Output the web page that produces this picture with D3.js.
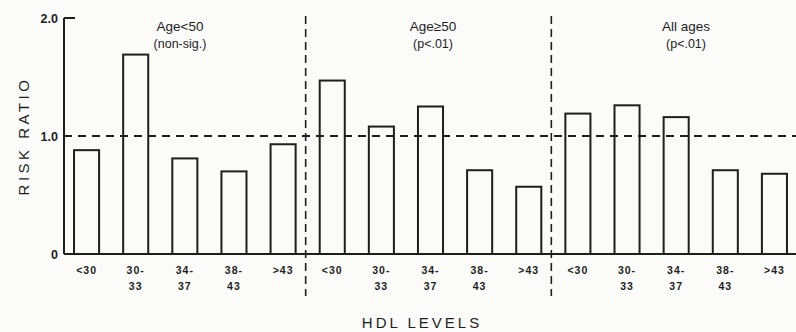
<!DOCTYPE html>
<html>
<head>
<meta charset="utf-8">
<script src="https://cdn.jsdelivr.net/npm/d3@7"></script>
<style>
  body { margin: 0; background: #fbfbfa; }
  text { font-family: "Liberation Sans", Arial, sans-serif; fill: #1e1e1e; }
</style>
</head>
<body>
<script>
// data
const groups = ["Age<50", "Age≥50", "All ages"]
const groupNotes = ["(non-sig.)", "(p<.01)", "(p<.01)"]
const hdlTop = ["<30", "30-", "34-", "38-", ">43"]
const hdlBottom = ["", "33", "37", "43", ""]
const youngRR = [0.88, 1.69, 0.81, 0.70, 0.93]
const oldRR = [1.47, 1.08, 1.25, 0.71, 0.57]
const allRR = [1.19, 1.26, 1.16, 0.71, 0.68]
const yTicks = [0, 1.0, 2.0]

const W = 796, H = 332
const Ink = "#1e1e1e"
const AxisX = 64
const BaseY = 254
const TopY = 18

const svg = d3.select("body").append("svg")
    .attr("width", W)
    .attr("height", H)

const series = [youngRR, oldRR, allRR]
const rows = []
series.forEach((vals, gi) => {
    vals.forEach((v, ci) => {
        rows.push({key: gi + "_" + ci, g: gi, c: ci, v: v})
    })
})

const x = d3.scaleBand()
    .domain(rows.map(d => d.key))
    .range([62, 799])
    .paddingInner(0.49)
    .paddingOuter(0.245)

const y = d3.scaleLinear()
    .domain([0, 2])
    .range([BaseY, TopY])

// axis line and top tick
svg.append("line")
    .attr("x1", AxisX).attr("x2", AxisX)
    .attr("y1", y(2)).attr("y2", BaseY)
    .attr("stroke", Ink).attr("stroke-width", 2)
svg.append("line")
    .attr("x1", AxisX).attr("x2", AxisX + 11)
    .attr("y1", y(2)).attr("y2", y(2))
    .attr("stroke", Ink).attr("stroke-width", 2)

// baseline
svg.append("line")
    .attr("x1", AxisX).attr("x2", W)
    .attr("y1", BaseY).attr("y2", BaseY)
    .attr("stroke", Ink).attr("stroke-width", 2)

// reference line at 1.0
svg.append("line")
    .attr("x1", AxisX).attr("x2", W)
    .attr("y1", y(1)).attr("y2", y(1))
    .attr("stroke", Ink).attr("stroke-width", 1.8)
    .attr("stroke-dasharray", "8,6")

// y tick labels
svg.selectAll(".ytick")
    .data(yTicks)
    .join("text")
    .attr("x", AxisX - 6)
    .attr("y", d => y(d) + 4.5)
    .attr("text-anchor", "end")
    .attr("font-size", 12.5)
    .attr("font-weight", "bold")
    .text(d => d == 0 ? "0" : d.toFixed(1))

// y label
svg.append("text")
    .attr("transform", "translate(29," + 136 + ") rotate(-90)")
    .attr("text-anchor", "middle")
    .attr("font-size", 15)
    .attr("letter-spacing", 3.5)
    .text("RISK  RATIO")

// bars
svg.selectAll(".bar")
    .data(rows)
    .join("rect")
    .attr("x", d => x(d.key))
    .attr("y", d => y(d.v))
    .attr("width", x.bandwidth())
    .attr("height", d => BaseY - y(d.v))
    .attr("fill", "none")
    .attr("stroke", Ink)
    .attr("stroke-width", 2)

// category labels
svg.selectAll(".cat1")
    .data(rows)
    .join("text")
    .attr("x", d => x(d.key) + x.bandwidth() / 2)
    .attr("y", 274)
    .attr("text-anchor", "middle")
    .attr("font-size", 10.5)
    .attr("font-weight", "bold")
    .attr("letter-spacing", 1)
    .text(d => hdlTop[d.c])
svg.selectAll(".cat2")
    .data(rows)
    .join("text")
    .attr("x", d => x(d.key) + x.bandwidth() / 2)
    .attr("y", 290)
    .attr("text-anchor", "middle")
    .attr("font-size", 10.5)
    .attr("font-weight", "bold")
    .attr("letter-spacing", 1)
    .text(d => hdlBottom[d.c])

// group dividers, halfway between the last bar of one group and the first of the next
for (let g = 1; g < groups.length; g++) {
    const prev = x(g - 1 + "_4") + x.bandwidth()
    const next = x(g + "_0")
    const mx = (prev + next) / 2 - 2
    svg.append("line")
        .attr("x1", mx).attr("x2", mx)
        .attr("y1", 16).attr("y2", 296)
        .attr("stroke", Ink).attr("stroke-width", 1.6)
        .attr("stroke-dasharray", "8,5")
}

// group titles
const titleX = [180, 433, 686]
groups.forEach((g, i) => {
    svg.append("text")
        .attr("x", titleX[i]).attr("y", 31)
        .attr("text-anchor", "middle")
        .attr("font-size", 13.5)
        .text(g)
    svg.append("text")
        .attr("x", titleX[i]).attr("y", 48)
        .attr("text-anchor", "middle")
        .attr("font-size", 12.5)
        .text(groupNotes[i])
})

// x title
svg.append("text")
    .attr("x", 422).attr("y", 328)
    .attr("text-anchor", "middle")
    .attr("font-size", 15)
    .attr("letter-spacing", 3)
    .text("HDL  LEVELS")
</script>
</body>
</html>
